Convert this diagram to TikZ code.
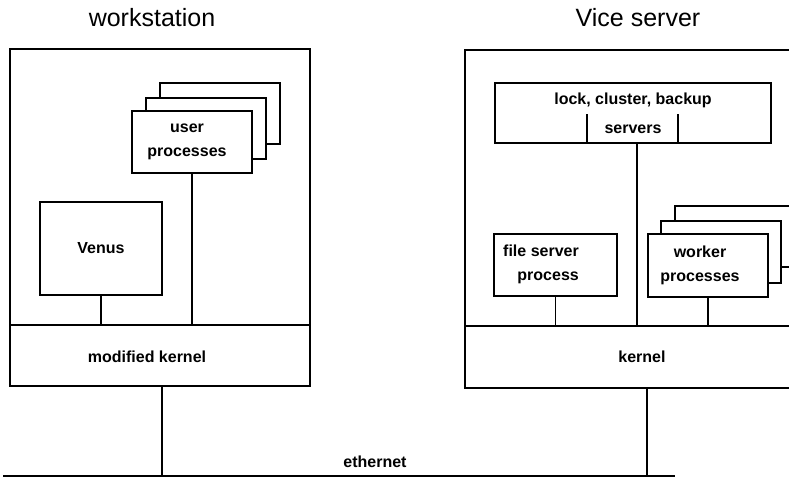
\documentclass[tikz,border=0pt]{standalone}
\usepackage{fontspec}
\setmainfont{Liberation Sans}
\usetikzlibrary{positioning}

\tikzset{
  title/.style={font=\fontsize{25}{30}\selectfont, anchor=base, inner sep=0pt},
  outer/.style={draw, line width=2.4pt, inner sep=0pt},
  kern/.style={outer, font=\fontsize{16}{20}\selectfont\bfseries},
  proc/.style={draw, fill=white, line width=1.4pt, inner sep=0pt,
    align=center, font=\fontsize{16}{24}\selectfont\bfseries},
  txt/.style={font=\fontsize{16}{24}\selectfont\bfseries, inner sep=0pt},
  link/.style={line width=1.3pt},
}

\begin{document}
\begin{tikzpicture}[x=1pt,y=-1pt]
\useasboundingbox (0,0) rectangle (789,479);
\clip (0,0) rectangle (789,479);

% titles
\node[title] (wstitle) at (152,27) {workstation};
\node[title] (vstitle) at (638,27) {Vice server};

% workstation
\node[outer, minimum width=300, minimum height=276] (ws) at (160,187) {};
\node[kern, minimum width=300, minimum height=61] (wsk) at (160,355.5) {};
\node[txt, anchor=base] (wsklabel) at (147,362) {modified kernel};

\node[proc, minimum width=120, minimum height=61] (userC) at (220,113.5) {};
\node[proc, minimum width=120, minimum height=61] (userB) at (206,128.5) {};
\node[proc, minimum width=120, minimum height=62] (userA) at (192,142) {};
\node[txt, align=center] (userlabel) at (187,142) {user\\processes};
\node[proc, minimum width=122, minimum height=93] (venus) at (101,248.5) {Venus};

\draw[link] (venus) -- (venus.south |- wsk.north);
\draw[link] (userA) -- (userA.south |- wsk.north);

% Vice server
\node[outer, minimum width=354, minimum height=276] (vs) at (642,188) {};
\node[kern, minimum width=354, minimum height=62] (vsk) at (642,357) {kernel};

\node[proc, minimum width=276, minimum height=60,
  font=\fontsize{16}{29}\selectfont\bfseries] (lock) at (633,113) {lock, cluster, backup\\servers};
\draw[link] ([xshift=-46pt]lock.south) -- ++(0,-30);
\draw[link] ([xshift=45pt]lock.south) -- ++(0,-30);

\node[proc, minimum width=123, minimum height=62] (fsp) at (555.5,265) {};
\node[txt, align=right, anchor=east] (fsplabel) at (579,264) {file server\\process};

\node[proc, minimum width=120, minimum height=61] (workC) at (735,236.5) {};
\node[proc, minimum width=120, minimum height=62] (workB) at (721,252) {};
\node[proc, minimum width=120, minimum height=63] (workA) at (708,265.5) {};
\node[txt, align=center] (worklabel) at (700,265.5) {worker\\processes};

\draw[link] (fsp) -- (fsp.south |- vsk.north);
\draw[link] ([xshift=4pt]lock.south) -- ([xshift=4pt]lock.south |- vsk.north);
\draw[link] (workA) -- (workA.south |- vsk.north);

% ethernet
\coordinate (ethL) at (3,476);
\coordinate (ethR) at (675,476);
\draw[link] (ethL) -- (ethR);
\node[txt, anchor=base] (ethlabel) at (375,467) {ethernet};
\draw[link] ([xshift=2pt]wsk.south) -- ([xshift=2pt]wsk.south |- ethL);
\draw[link] ([xshift=5pt]vsk.south) -- ([xshift=5pt]vsk.south |- ethL);
\end{tikzpicture}
\end{document}
